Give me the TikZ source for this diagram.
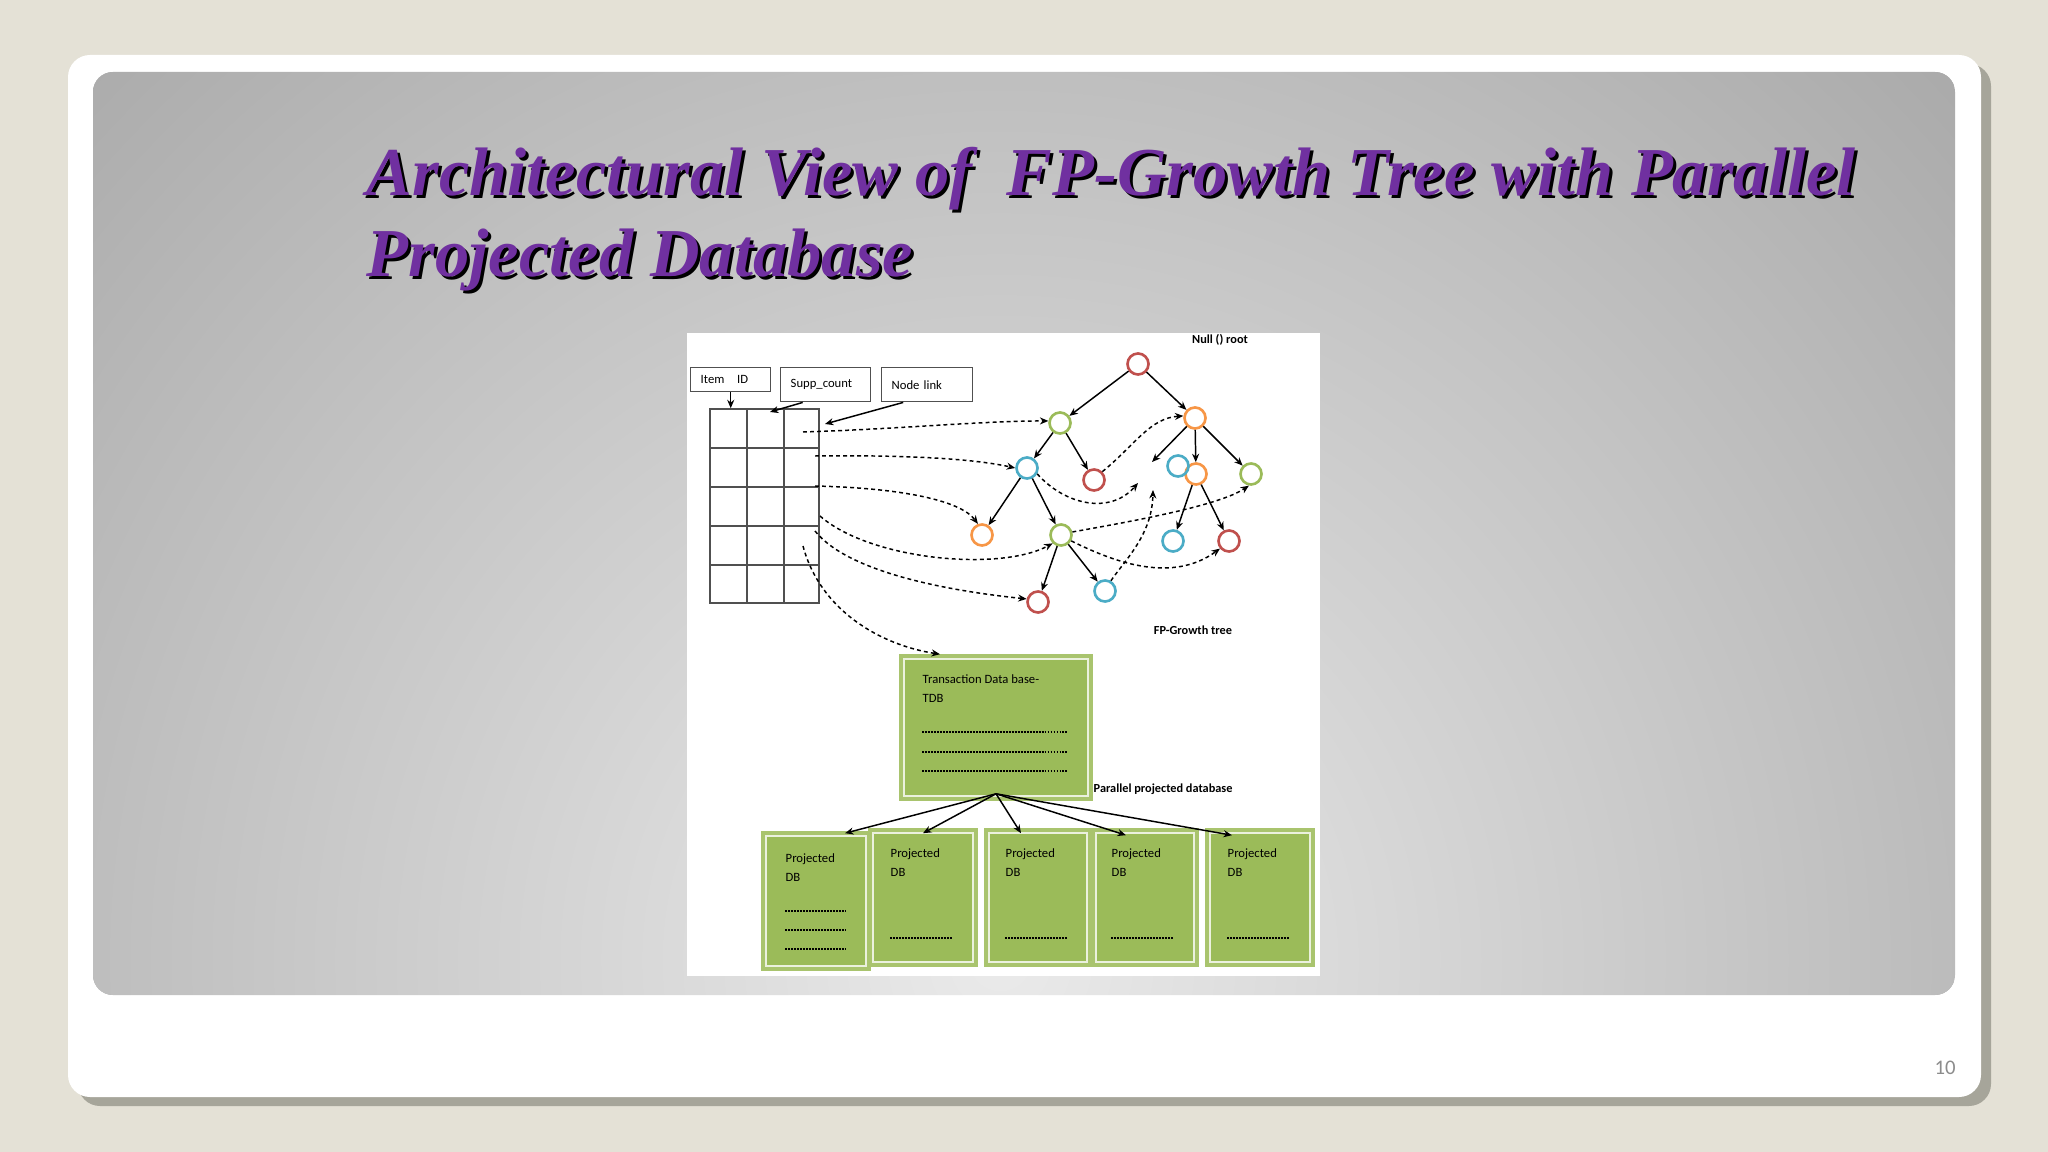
\documentclass[tikz,border=0pt]{standalone}
\usepackage{fontspec}
\setmainfont{Liberation Serif}
\newfontfamily\diag{Carlito}
\usetikzlibrary{arrows.meta}
\definecolor{bgbeige}{HTML}{E4E1D6}
\definecolor{shadowc}{HTML}{A6A59A}
\definecolor{titlep}{HTML}{7030A0}
\definecolor{cred}{HTML}{C0504D}
\definecolor{cgreen}{HTML}{9BBB59}
\definecolor{corange}{HTML}{F79646}
\definecolor{ccyan}{HTML}{4BACC6}
\definecolor{boxg}{HTML}{9BBB59}
\definecolor{boxbord}{HTML}{A9C46E}
\definecolor{boxinner}{HTML}{EBF1DE}
\definecolor{gin}{HTML}{EAEAEA}
\definecolor{gout}{HTML}{A8A8A8}
\definecolor{pagenum}{HTML}{8C8C8C}
\definecolor{tblline}{HTML}{505050}
\tikzset{
  tnode/.style={circle, draw, line width=0.75pt, minimum size=0.21cm, inner sep=0pt},
  edge/.style={line width=0.42pt, -{Stealth[length=2.4pt,width=2pt]}},
  dline/.style={line width=0.42pt, dash pattern=on 1.1pt off 0.9pt, -{Stealth[length=2.4pt,width=2pt]}},
  hbox/.style={draw=tblline, line width=0.4pt, inner xsep=0.1cm, inner ysep=0pt, align=left,
    font=\diag\fontsize{3.6pt}{4pt}\selectfont},
  gbox/.style={fill=boxg, draw=boxbord, line width=1pt, inner sep=0pt},
  innerline/.style={draw=boxinner, line width=0.45pt},
  dtext/.style={font=\diag\fontsize{3.6pt}{5.4pt}\selectfont, anchor=north west, align=left, inner sep=0pt},
  dots/.style={line width=0.35pt, dash pattern=on 0.55pt off 0.3pt},
  lbl/.style={font=\diag\bfseries\fontsize{3.5pt}{4pt}\selectfont, inner sep=0pt},
  ttl/.style={font=\fontsize{19.5pt}{23pt}\selectfont\bfseries\itshape, anchor=base west, inner sep=0pt}
}
\begin{document}
\begin{tikzpicture}[x=0.01cm, y=-0.01cm]
\useasboundingbox (0,0) rectangle (2048,1152);
% background
\fill[bgbeige] (0,0) rectangle (2048,1152);
\fill[shadowc, rounded corners=0.22cm] (78,64) rectangle (1991,1106);
\fill[white, rounded corners=0.22cm] (68,55) rectangle (1981,1097);
\begin{scope}
  \clip[rounded corners=0.2cm] (93,72) rectangle (1955,995);
  \fill[gout] (93,72) rectangle (1955,995);
  \shade[inner color=gin, outer color=gout] (1000,960) ellipse (13.5cm and 13.5cm);
\end{scope}
% title
\node[ttl, black] (t1s) at (369,199) {Architectural View of\ \ FP-Growth Tree with Parallel};
\node[ttl, black] (t2s) at (369,280) {Projected Database};
\node[ttl, titlep] (t1) at (366,196) {Architectural View of\ \ FP-Growth Tree with Parallel};
\node[ttl, titlep] (t2) at (366,277) {Projected Database};
% page number
\node[font=\diag\fontsize{5.9pt}{6pt}\selectfont, text=pagenum, inner sep=0pt] (pnum) at (1945,1068) {10};
% diagram canvas
\fill[white] (687,333) rectangle (1320,976);
% header boxes
\node[hbox, text width=0.6cm, minimum height=0.24cm, anchor=north west] (iid) at (690,367) {Item\ \ \ ID};
\node[hbox, text width=0.7cm, minimum height=0.34cm, anchor=north west] (scnt) at (780,367) {Supp\_count};
\node[hbox, text width=0.71cm, minimum height=0.34cm, anchor=north west] (nlk) at (881,367) {Node link};
% table
\node[draw=tblline, line width=0.4pt, minimum width=1.09cm, minimum height=1.94cm, inner sep=0pt] (tbl) at (764.5,506) {};
\foreach \xx in {747,784} \draw[tblline, line width=0.4pt] (\xx,409) -- (\xx,603);
\foreach \yy in {448,487,526,565} \draw[tblline, line width=0.4pt] (710,\yy) -- (819,\yy);
\coordinate (tsc) at (770,412);
\coordinate (tnl) at (825,424);
\draw[edge] (iid.south) -- (iid.south |- tbl.north);
\draw[edge] ([xshift=-0.23cm]scnt.south) -- (tsc);
\draw[edge] ([xshift=-0.24cm]nlk.south) -- (tnl);
% table link start points
\coordinate (ta) at (803,432);
\coordinate (tb) at (815,456);
\coordinate (tc) at (815,486);
\coordinate (td) at (820,516);
\coordinate (te) at (815,531);
\coordinate (tf) at (803,546);
% tree nodes
\node[tnode, draw=cred] (root) at (1138,364) {};
\node[tnode, draw=cgreen] (g1) at (1060,423) {};
\node[tnode, draw=corange] (ot) at (1195,418) {};
\node[tnode, draw=ccyan] (c1) at (1027,468) {};
\node[tnode, draw=cred] (r1) at (1094,480) {};
\node[tnode, draw=corange] (o2) at (1196,474) {};
\node[tnode, draw=ccyan] (c2) at (1178,466) {};
\node[tnode, draw=cgreen] (g2) at (1251,474) {};
\node[tnode, draw=corange] (o1) at (982,535) {};
\node[tnode, draw=cgreen] (g3) at (1061,535) {};
\node[tnode, draw=ccyan] (c3) at (1173,541) {};
\node[tnode, draw=cred] (r2) at (1229,541) {};
\node[tnode, draw=cred] (r3) at (1038,602) {};
\node[tnode, draw=ccyan] (c4) at (1105,591) {};
\coordinate (e1) at (1152,462);
\coordinate (e2) at (1138,483);
\coordinate (e3) at (1153,490);
% solid tree edges
\draw[edge] (root) -- (g1);
\draw[edge] (root) -- (ot);
\draw[edge] (g1) -- (c1);
\draw[edge] (g1) -- (r1);
\draw[edge] (ot) -- (e1);
\draw[edge] (ot) -- (o2);
\draw[edge] (ot) -- (g2);
\draw[edge] (c1) -- (o1);
\draw[edge] (c1) -- (g3);
\draw[edge] (o2) -- (c3);
\draw[edge] (o2) -- (r2);
\draw[edge] (g3) -- (r3);
\draw[edge] (g3) -- (c4);
% labels
\node[lbl] (nulllbl) at (1220,340) {Null () root};
\node[lbl] (fplbl) at (1193,630) {FP-Growth tree};
% TDB box
\node[gbox, minimum width=1.9cm, minimum height=1.43cm] (tdb) at (996,727.5) {};
\draw[innerline] ([shift={(5,5)}]tdb.north west) rectangle ([shift={(-5,-5)}]tdb.south east);
\node[dtext] (tdbtxt) at (922,674) {Transaction Data base-\\TDB};
\foreach \yy in {732,752,771} \draw[dots] (922,\yy) -- (1067,\yy);
\node[lbl, anchor=west] (ppd) at (1093,789) {Parallel projected database};
% projected boxes
\node[gbox, minimum width=1.06cm, minimum height=1.36cm] (p1) at (816,901) {};
\node[gbox, minimum width=1.06cm, minimum height=1.35cm] (p2) at (923,897.5) {};
\node[gbox, minimum width=1.04cm, minimum height=1.35cm] (p3) at (1038,897.5) {};
\node[gbox, minimum width=1.04cm, minimum height=1.35cm] (p4) at (1145,897.5) {};
\node[gbox, minimum width=1.06cm, minimum height=1.35cm] (p5) at (1260,897.5) {};
\foreach \p in {p1,p2,p3,p4,p5}
  \draw[innerline] ([shift={(5,5)}]\p.north west) rectangle ([shift={(-5,-5)}]\p.south east);
\node[dtext] (p1t) at (785,853) {Projected\\DB};
\node[dtext] (p2t) at (890,848) {Projected\\DB};
\node[dtext] (p3t) at (1005,848) {Projected\\DB};
\node[dtext] (p4t) at (1111,848) {Projected\\DB};
\node[dtext] (p5t) at (1227,848) {Projected\\DB};
\foreach \yy in {911,930,949} \draw[dots] (785,\yy) -- (846,\yy);
\foreach \xx in {890,1005,1111,1227} \draw[dots] (\xx,938) -- (\xx+62,938);
% fan arrows
\coordinate (fan) at ([yshift=0.07cm]tdb.south);
\draw[edge] (fan) -- ([xshift=0.29cm,yshift=-0.02cm]p1.north);
\draw[edge] (fan) -- ([yshift=-0.05cm]p2.north);
\draw[edge] (fan) -- ([xshift=-0.17cm,yshift=-0.05cm]p3.north);
\draw[edge] (fan) -- ([xshift=-0.19cm,yshift=-0.07cm]p4.north);
\draw[edge] (fan) -- ([xshift=-0.28cm,yshift=-0.07cm]p5.north);
% dashed links
\draw[dline] (ta) .. controls (900,429) and (980,421) .. (g1.170);
\draw[dline] (tb) .. controls (900,455) and (970,458) .. (c1.west);
\draw[dline] (tc) .. controls (900,488) and (960,500) .. (o1.110);
\draw[dline] (td) .. controls (870,560) and (1000,572) .. (g3.225);
\draw[dline] (te) .. controls (850,575) and (960,592) .. (r3.165);
\draw[dline] (tf) .. controls (820,610) and (880,645) .. ([xshift=-0.56cm]tdb.north);
\draw[dline] (r1.45) .. controls (1135,445) and (1150,418) .. (ot.170);
\draw[dline] (c1.-30) .. controls (1065,505) and (1110,515) .. (e2);
\draw[dline] (g3.15) .. controls (1140,520) and (1220,505) .. (g2.-100);
\draw[dline] (g3.-30) .. controls (1110,560) and (1170,585) .. (r2.220);
\draw[dline] (c4.60) .. controls (1125,560) and (1152,535) .. (e3);
\end{tikzpicture}
\end{document}
